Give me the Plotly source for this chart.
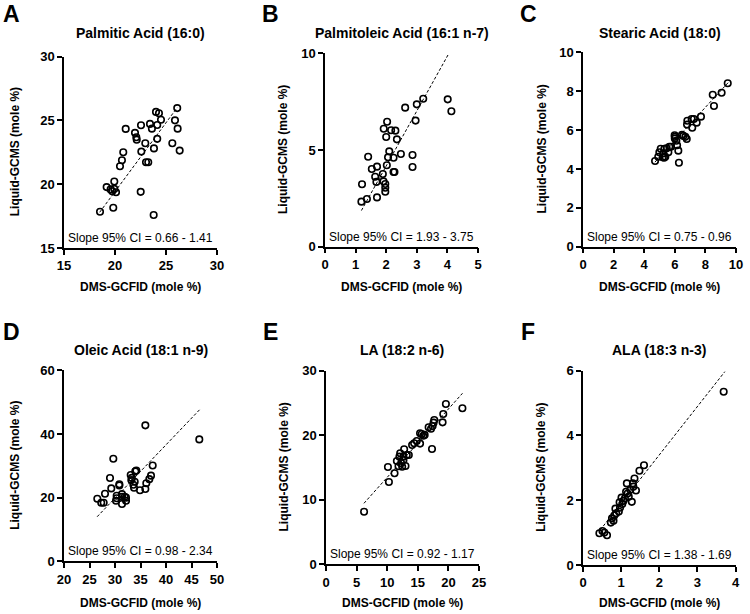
import plotly.graph_objects as go

# ---------------- data ----------------
titles = ["Palmitic Acid (16:0)", "Palmitoleic Acid (16:1 n-7)", "Stearic Acid (18:0)",
          "Oleic Acid (18:1 n-9)", "LA (18:2 n-6)", "ALA (18:3 n-3)"]
letters = ["A", "B", "C", "D", "E", "F"]
ci_labels = ["Slope 95% CI = 0.66 - 1.41", "Slope 95% CI = 1.93 - 3.75", "Slope 95% CI = 0.75 - 0.96",
             "Slope 95% CI = 0.98 - 2.34", "Slope 95% CI = 0.92 - 1.17", "Slope 95% CI = 1.38 - 1.69"]

a_x = [18.53, 19.18, 19.57, 19.73, 19.93, 19.93, 20.10, 19.83, 20.49, 20.68, 20.81, 21.05, 21.96, 22.09,
       22.13, 22.55, 22.52, 22.58, 22.97, 23.04, 23.26, 23.43, 23.62, 23.82, 23.79, 24.02, 24.14, 24.14,
       24.31, 24.51, 25.62, 25.88, 26.10, 26.14, 26.34]
a_y = [17.84, 19.77, 19.59, 19.45, 20.21, 19.63, 19.37, 18.15, 21.40, 21.87, 22.50, 24.33, 24.02, 23.68,
       23.48, 24.62, 19.40, 22.55, 23.20, 21.72, 21.72, 24.72, 24.35, 22.80, 17.58, 25.66, 24.64, 23.55,
       25.55, 25.05, 23.20, 25.00, 25.96, 24.35, 22.63]
b_x = [1.19, 1.37, 1.21, 1.41, 1.53, 1.70, 1.64, 1.68, 1.70, 1.89, 1.91, 1.97, 1.97, 1.97, 1.92, 2.03,
       2.00, 2.02, 2.06, 2.10, 2.16, 2.30, 2.24, 2.24, 2.27, 2.35, 2.48, 2.62, 2.86, 2.86, 2.96, 3.00,
       3.21, 4.01, 4.13]
b_y = [2.33, 2.47, 3.23, 4.65, 4.02, 4.14, 3.62, 3.35, 2.55, 3.76, 3.38, 3.24, 3.05, 2.84, 6.10, 6.46,
       5.67, 4.21, 4.62, 4.93, 6.02, 6.00, 4.60, 3.86, 3.86, 5.55, 4.79, 7.19, 4.74, 4.12, 6.52, 7.36,
       7.65, 7.62, 7.00]
c_x = [4.71, 4.92, 4.99, 5.08, 5.21, 5.25, 5.32, 5.30, 5.38, 5.47, 5.58, 5.64, 5.75, 5.99, 6.00, 6.00,
       6.10, 6.15, 6.23, 6.27, 6.47, 6.56, 6.69, 6.78, 6.82, 6.80, 7.10, 7.14, 7.25, 7.43, 7.71, 8.48,
       8.56, 9.06, 9.46]
c_y = [4.41, 4.63, 4.86, 5.04, 4.60, 4.80, 5.04, 4.58, 4.63, 5.06, 4.86, 5.14, 5.14, 5.73, 5.65, 5.56,
       5.45, 5.22, 4.94, 4.32, 5.75, 5.70, 5.65, 5.54, 6.48, 6.28, 6.57, 6.12, 6.57, 6.38, 6.69, 7.82,
       7.24, 7.92, 8.41]
d_x = [26.53, 27.30, 27.78, 28.04, 29.02, 29.27, 29.67, 30.33, 30.33, 30.20, 30.85, 30.85, 31.37, 31.40,
       31.37, 31.90, 32.16, 32.16, 33.08, 33.20, 33.30, 33.60, 33.73, 33.86, 33.98, 34.18, 34.90, 35.95,
       36.14, 35.95, 36.73, 37.06, 37.39, 46.53]
d_y = [19.66, 18.40, 18.40, 21.20, 26.15, 22.90, 32.20, 20.60, 19.80, 19.00, 24.20, 23.80, 21.10, 20.30,
       18.00, 20.30, 19.00, 20.00, 27.10, 25.50, 26.20, 24.05, 23.10, 25.00, 28.26, 28.50, 22.30, 22.70,
       24.50, 42.70, 25.80, 26.90, 30.10, 38.30]
e_x = [6.22, 10.12, 10.28, 11.20, 11.58, 11.85, 12.00, 12.12, 12.28, 12.45, 12.66, 12.66, 12.77, 12.99,
       13.20, 13.53, 14.07, 14.40, 14.83, 15.37, 15.37, 15.64, 15.90, 16.12, 16.77, 17.16, 17.32, 17.42,
       17.58, 17.69, 19.05, 19.16, 19.59, 22.29]
e_y = [8.15, 15.08, 12.75, 14.10, 16.00, 15.19, 16.68, 17.20, 15.65, 15.12, 16.16, 16.68, 17.82, 15.23,
       16.94, 16.94, 18.49, 18.75, 19.10, 18.70, 20.30, 20.20, 19.93, 20.05, 21.23, 21.00, 17.87, 21.43,
       21.95, 22.37, 22.00, 23.30, 24.84, 24.17]
f_x = [0.43, 0.51, 0.56, 0.63, 0.73, 0.76, 0.80, 0.82, 0.87, 0.85, 0.94, 0.96, 0.97, 1.01, 1.03, 1.06,
       1.10, 1.13, 1.15, 1.17, 1.20, 1.24, 1.28, 1.31, 1.32, 1.35, 1.39, 1.48, 1.60, 3.69]
f_y = [0.98, 1.05, 1.00, 0.92, 1.31, 1.44, 1.37, 1.53, 1.60, 1.74, 1.65, 1.94, 1.77, 2.08, 1.88, 1.98,
       2.06, 2.26, 2.52, 2.21, 2.11, 2.32, 1.95, 2.52, 2.42, 2.67, 2.30, 2.91, 3.08, 5.35]

# regression line end points
fit_a_x = [18.5, 26.1]; fit_a_y = [17.8, 26.0]
fit_b_x = [1.19, 4.05]; fit_b_y = [1.87, 10.0]
fit_c_x = [4.7, 9.5];   fit_c_y = [4.35, 8.45]
fit_d_x = [26.5, 46.7]; fit_d_y = [14.0, 47.8]
fit_e_x = [6.2, 22.3];  fit_e_y = [9.45, 26.5]
fit_f_x = [0.45, 3.72]; fit_f_y = [1.08, 5.97]

x_ranges = [[15, 30], [0, 5], [0, 10], [20, 50], [0, 25], [0, 4]]
y_ranges = [[15, 30], [0, 10], [0, 10], [0, 60], [0, 30], [0, 6]]
x_dticks = [5, 1, 2, 5, 5, 1]
y_dticks = [5, 5, 2, 20, 10, 2]

xs = [a_x, b_x, c_x, d_x, e_x, f_x]
ys = [a_y, b_y, c_y, d_y, e_y, f_y]
fxs = [fit_a_x, fit_b_x, fit_c_x, fit_d_x, fit_e_x, fit_f_x]
fys = [fit_a_y, fit_b_y, fit_c_y, fit_d_y, fit_e_y, fit_f_y]

# ---------------- layout geometry (pixels) ----------------
W, H = 750, 614
px_x = [(64, 217), (325, 478), (583, 736), (64, 217), (326, 479), (583, 735.5)]
px_y = [(56.5, 248), (53.3, 246.7), (52.3, 246.7), (370.3, 561.3), (370.7, 564.3), (370.7, 565)]
ytitle_x = [15, 283, 541, 15, 283, 541]
letter_x = [11, 270, 528, 11, 270, 528]
row_title_y = [33, 33, 33, 350, 350, 350]
row_letter_y = [14, 14, 14, 332, 332, 332]
row_xtitle_y = [287, 287, 287, 603, 603, 603]

FONT = "Liberation Sans, Arial, sans-serif"
fig = go.Figure()
annotations = []
axk = ["" if i == 0 else str(i + 1) for i in range(6)]
for i in range(6):
    k = axk[i]
    fig.add_trace(go.Scatter(x=xs[i], y=ys[i], mode="markers", xaxis="x" + k, yaxis="y" + k,
                             marker=dict(symbol="circle-open", size=6.5, color="black",
                                         line=dict(color="black", width=1.6)),
                             showlegend=False))
for i in range(6):
    k = axk[i]
    fig.add_trace(go.Scatter(x=fxs[i], y=fys[i], mode="lines", xaxis="x" + k, yaxis="y" + k,
                             line=dict(color="black", width=1, dash="3px,2px"),
                             hoverinfo="skip", showlegend=False))

for i in range(6):
    k = axk[i]
    xa, ya = "x" + k, "y" + k
    x0, x1 = px_x[i]
    y0, y1 = px_y[i]
    common = dict(showline=True, linecolor="black", linewidth=1.5, ticks="outside", ticklen=5,
                  tickwidth=1.5, tickcolor="black", showgrid=False, zeroline=False, tick0=0,
                  tickfont=dict(family=FONT, size=13, color="black", weight="bold"),
                  fixedrange=True, automargin=False)
    ax = dict(domain=[x0 / W, x1 / W], range=x_ranges[i], dtick=x_dticks[i], anchor=ya, **common)
    ay = dict(domain=[1 - y1 / H, 1 - y0 / H], range=y_ranges[i], dtick=y_dticks[i], anchor=xa, **common)
    fig.update_layout(**{"xaxis" + k: ax, "yaxis" + k: ay})
    cx = (x0 + x1) / 2 / W
    cy = 1 - (y0 + y1) / 2 / H
    annotations.append(dict(text=ci_labels[i], xref=xa + " domain", yref=ya + " domain", x=0.5, y=0,
                            xanchor="center", yanchor="bottom", yshift=1, showarrow=False,
                            font=dict(family=FONT, size=12, color="black")))
    annotations.append(dict(text="<b>" + titles[i] + "</b>", xref="paper", yref="paper", x=cx,
                            y=1 - row_title_y[i] / H, xanchor="center", yanchor="middle",
                            showarrow=False, font=dict(family=FONT, size=14, color="black")))
    annotations.append(dict(text="<b>" + letters[i] + "</b>", xref="paper", yref="paper",
                            x=letter_x[i] / W, y=1 - row_letter_y[i] / H, xanchor="center",
                            yanchor="middle", showarrow=False,
                            font=dict(family=FONT, size=23, color="black")))
    annotations.append(dict(text="<b>DMS-GCFID (mole %)</b>", xref="paper", yref="paper", x=cx,
                            y=1 - row_xtitle_y[i] / H, xanchor="center", yanchor="middle",
                            showarrow=False, font=dict(family=FONT, size=12, color="black")))
    annotations.append(dict(text="<b>Liquid-GCMS (mole %)</b>", xref="paper", yref="paper",
                            x=ytitle_x[i] / W, y=cy, xanchor="center", yanchor="middle",
                            textangle=-90, showarrow=False,
                            font=dict(family=FONT, size=12, color="black")))

fig.update_layout(width=W, height=H, margin=dict(l=0, r=0, t=0, b=0, pad=0),
                  paper_bgcolor="white", plot_bgcolor="white",
                  annotations=annotations, showlegend=False)
fig.write_html("out.html", config={"displayModeBar": False},
               post_script="document.body.style.margin='0';document.body.style.padding='0';")
